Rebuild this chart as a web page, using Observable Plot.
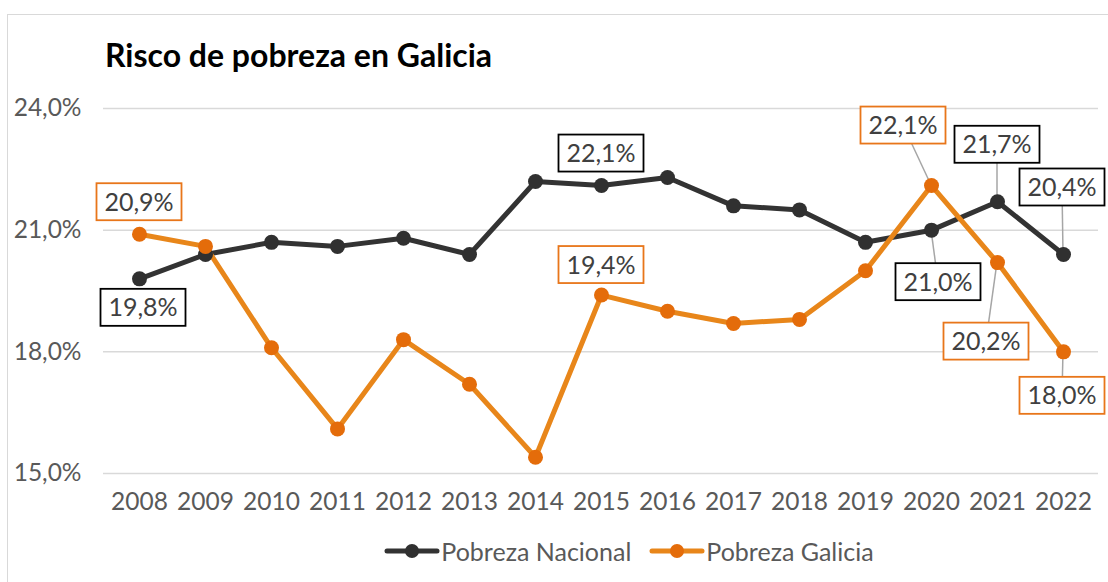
<!DOCTYPE html>
<html>
<head>
<meta charset="utf-8">
<script src="https://cdn.jsdelivr.net/npm/d3@7"></script>
<script src="https://cdn.jsdelivr.net/npm/@observablehq/plot@0.6"></script>
<style>
  html, body { margin: 0; padding: 0; background: #fff; }
  #wrap { position: relative; width: 1108px; height: 582px; overflow: hidden; font-family: Lato, "Open Sans", sans-serif; }
  #frame { position: absolute; left: 7px; top: 14px; width: 1120px; height: 600px; border: 1px solid #d9d9d9; box-sizing: border-box; }
  #title { position: absolute; left: 105px; top: 39px; font-size: 32px; font-weight: 700; color: #000; line-height: 1; white-space: nowrap; }
  #chart { position: absolute; left: 0; top: 0; }
  #legend { position: absolute; left: 150px; width: 958px; top: 537px; display: flex; justify-content: center; align-items: center; font-size: 25px; color: #595959; line-height: 28px; }
  .item { display: flex; align-items: center; margin: 0 9px; }
  .item svg { margin-right: 1px; }
</style>
</head>
<body>
<div id="wrap">
  <div id="frame"></div>
  <div id="chart"></div>
  <div id="title">Risco de pobreza en Galicia</div>
  <div id="legend"></div>
</div>
<script>
const years = [2008, 2009, 2010, 2011, 2012, 2013, 2014, 2015, 2016, 2017, 2018, 2019, 2020, 2021, 2022];
const nacional = [19.8, 20.4, 20.7, 20.6, 20.8, 20.4, 22.2, 22.1, 22.3, 21.6, 21.5, 20.7, 21.0, 21.7, 20.4];
const galicia = [20.9, 20.6, 18.1, 16.1, 18.3, 17.2, 15.4, 19.4, 19.0, 18.7, 18.8, 20.0, 22.1, 20.2, 18.0];
const seriesNames = ["Pobreza Nacional", "Pobreza Galicia"];
const yTicks = [15, 18, 21, 24];

// data labels: which point is labelled (styling offsets in px kept separate)
const labelled = [
  {series: "Pobreza Galicia", year: 2008, dx: 0, dy: -32, leader: false},
  {series: "Pobreza Nacional", year: 2008, dx: 4, dy: 29, leader: false},
  {series: "Pobreza Nacional", year: 2015, dx: 0, dy: -32, leader: false},
  {series: "Pobreza Galicia", year: 2015, dx: 0, dy: -30, leader: false},
  {series: "Pobreza Galicia", year: 2020, dx: -28, dy: -60, leader: true},
  {series: "Pobreza Nacional", year: 2020, dx: 7, dy: 52, leader: true},
  {series: "Pobreza Nacional", year: 2021, dx: 0, dy: -57, leader: true},
  {series: "Pobreza Galicia", year: 2021, dx: -11, dy: 79, leader: true},
  {series: "Pobreza Nacional", year: 2022, dx: -1, dy: -67, leader: true},
  {series: "Pobreza Galicia", year: 2022, dx: -1, dy: 44, leader: true}
];

const lineColor = {"Pobreza Nacional": "#333333", "Pobreza Galicia": "#E8861A"};
const dotColor = {"Pobreza Nacional": "#303030", "Pobreza Galicia": "#E46C0A"};
const boxColor = {"Pobreza Nacional": "#000000", "Pobreza Galicia": "#E8761A"};

const rows = [];
years.forEach((y, i) => {
  rows.push({series: seriesNames[0], year: y, value: nacional[i]});
  rows.push({series: seriesNames[1], year: y, value: galicia[i]});
});
const fmt = v => v.toFixed(1).replace(".", ",") + "%";

const labelRows = labelled.map(l => Object.assign({}, l, {value: rows.find(r => r.series === l.series && r.year === l.year).value}));

function leaderMark(index, scales) {
  const g = d3.create("svg:g");
  for (const l of labelRows) {
    if (!l.leader) continue;
    const px = scales.x(l.year), py = scales.y(l.value);
    g.append("line").attr("x1", px).attr("y1", py).attr("x2", px + l.dx).attr("y2", py + l.dy)
      .attr("stroke", "#a6a6a6").attr("stroke-width", 1.5);
  }
  return g.node();
}
function boxMark(index, scales) {
  const g = d3.create("svg:g");
  for (const l of labelRows) {
    const cx = scales.x(l.year) + l.dx, cy = scales.y(l.value) + l.dy;
    g.append("rect").attr("x", cx - 42.5).attr("y", cy - 18.5).attr("width", 85).attr("height", 37)
      .attr("fill", "#fff").attr("stroke", boxColor[l.series]).attr("stroke-width", 1.8);
    g.append("text").attr("x", cx).attr("y", cy).attr("text-anchor", "middle").attr("dy", "0.36em")
      .attr("font-size", 25).attr("fill", "#404040").attr("font-family", "Lato, 'Open Sans', sans-serif")
      .text(fmt(l.value));
  }
  return g.node();
}

const chart = Plot.plot({
  width: 1108,
  height: 582,
  marginLeft: 103,
  marginRight: 10,
  marginTop: 108,
  marginBottom: 109,
  style: {fontFamily: "Lato, 'Open Sans', sans-serif", background: "transparent"},
  x: {type: "point", domain: years, padding: 0.5},
  y: {domain: [15, 24]},
  marks: [
    Plot.ruleY(yTicks, {stroke: "#d9d9d9", strokeWidth: 1.5}),
    Plot.axisY({ticks: yTicks, tickFormat: fmt, tickSize: 0, tickPadding: 22, fontSize: 24.5, color: "#595959", label: null}),
    Plot.axisX({tickSize: 0, tickPadding: 19, fontSize: 24.5, color: "#595959", label: null, tickFormat: d => String(d)}),
    leaderMark,
    Plot.line(rows, {x: "year", y: "value", z: "series", stroke: d => lineColor[d.series], strokeWidth: 5, strokeLinejoin: "round", strokeLinecap: "round"}),
    Plot.dot(rows, {x: "year", y: "value", fill: d => dotColor[d.series], r: 7.5, stroke: "none"}),
    boxMark
  ]
});
document.getElementById("chart").appendChild(chart);

// legend
const legend = document.getElementById("legend");
seriesNames.forEach(name => {
  const item = document.createElement("div");
  item.className = "item";
  item.innerHTML = `<svg width="56" height="20"><line x1="3" y1="10" x2="53" y2="10" stroke="${lineColor[name]}" stroke-width="5" stroke-linecap="round"/><circle cx="28" cy="10" r="7" fill="${dotColor[name]}"/></svg><span>${name}</span>`;
  legend.appendChild(item);
});
</script>
</body>
</html>
